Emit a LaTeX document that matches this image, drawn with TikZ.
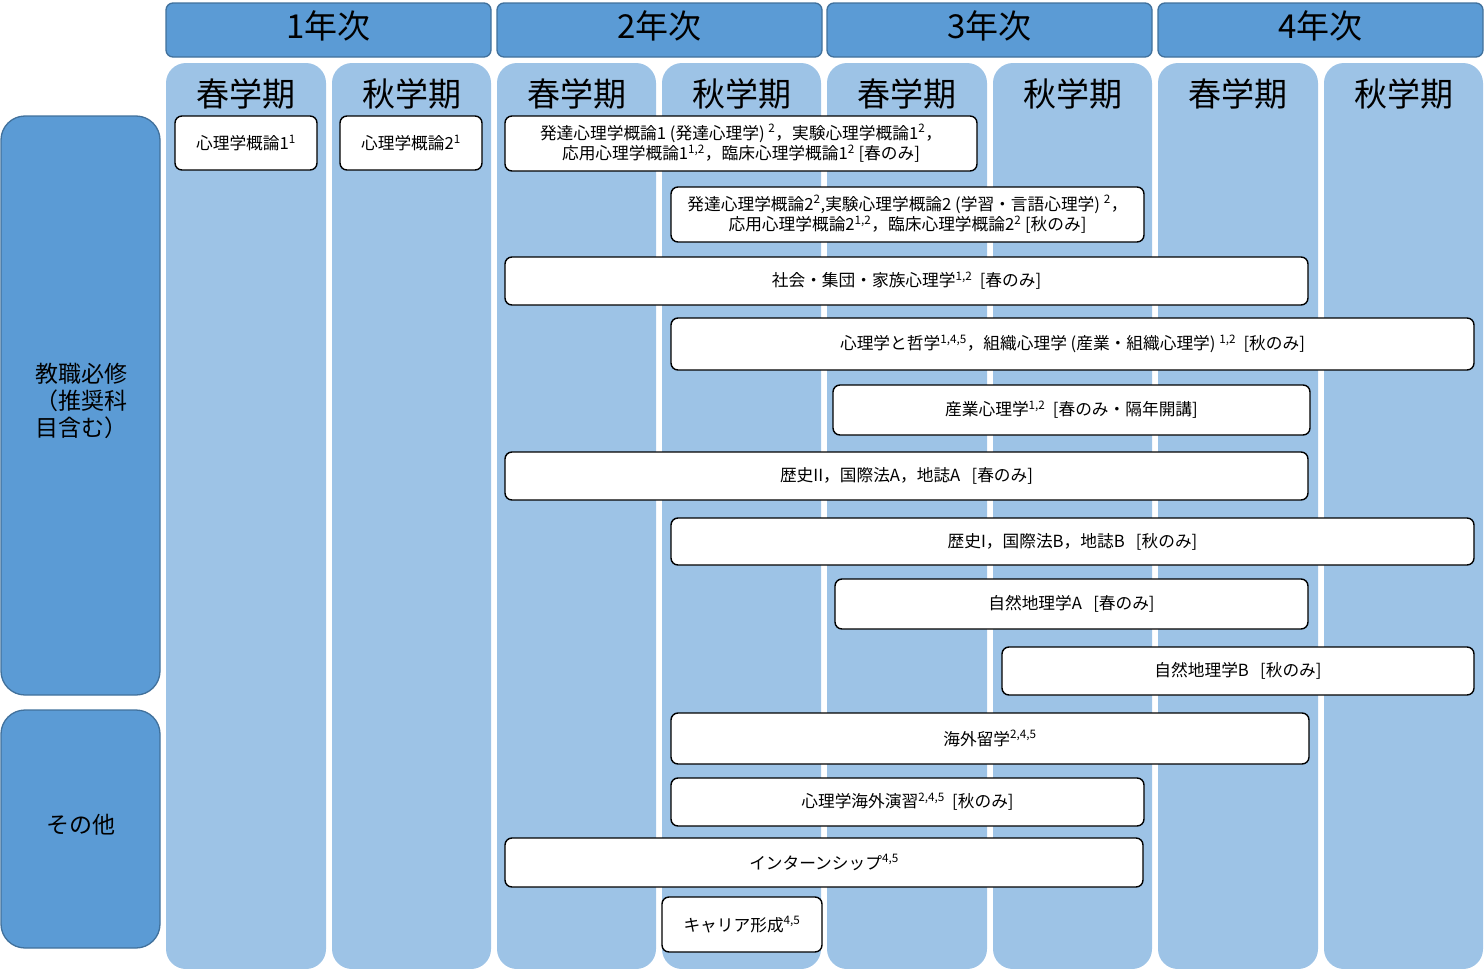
\documentclass[tikz,border=0pt]{standalone}
\usepackage{fontspec}
\setmainfont{Noto Sans CJK JP}
\definecolor{dblue}{HTML}{5B9BD5}
\definecolor{dborder}{HTML}{41719C}
\definecolor{lblue}{HTML}{9DC3E6}
\newcommand{\sups}[1]{\textsuperscript{#1}}
\tikzset{
  col/.style={fill=lblue, draw=none, rounded corners=20pt},
  yearbox/.style={fill=dblue, draw=dborder, line width=1.3pt, rounded corners=7pt, inner sep=0pt},
  yeartext/.style={inner sep=0pt, font=\fontsize{33}{36}\selectfont},
  sidebox/.style={fill=dblue, draw=dborder, line width=1.3pt, rounded corners=24pt, inner sep=0pt},
  semlabel/.style={inner sep=0pt, font=\fontsize{33}{36}\selectfont},
  cbox/.style={fill=white, draw=black, line width=1.4pt, rounded corners=7pt, inner sep=0pt, align=center, font=\fontsize{16.7}{20.5}\selectfont},
}
\newcommand{\boxat}[6][]{%
  \node[cbox,#1, minimum width={(#4)-(#2)}, minimum height={(#5)-(#3)}] (#6) at ({((#2)+(#4))/2},{((#3)+(#5))/2})}
\begin{document}
\begin{tikzpicture}[x=1pt,y=-1pt]
\useasboundingbox (0,0) rectangle (1484,969);
% columns
\foreach \a/\b/\n in {166/326/c1,332/491/c2,497/656/c3,662/821/c4,827/987/c5,993/1152/c6,1158/1318/c7,1324/1483/c8}{
  \path[col] (\a,63) rectangle (\b,969);
}
% semester labels
\foreach \cx/\t/\n in {246/春学期/s1,411.5/秋学期/s2,576.5/春学期/s3,741.5/秋学期/s4,907/春学期/s5,1072.5/秋学期/s6,1238/春学期/s7,1403.5/秋学期/s8}{
  \node[semlabel] (\n) at (\cx,94) {\t};
}
% year headers
\foreach \cx/\t/\n in {328.5/1年次/y1,659.5/2年次/y2,989.5/3年次/y3,1320.5/4年次/y4}{
  \node[yearbox, minimum width=325pt, minimum height=54pt] (\n) at (\cx,30) {};
  \node[yeartext] (\n t) at (\cx,26) {\t};
}
% side boxes
\node[sidebox, minimum width=159pt, minimum height=579pt] (side1) at (80.5,405.5) {};
\node[anchor=west, align=left, inner sep=0pt, font=\fontsize{23}{27}\selectfont] (side1t) at (35,401) {教職必修\\（推奨科\\目含む）};
\node[sidebox, minimum width=159pt, minimum height=238pt, font=\fontsize{23}{27}\selectfont] (side2) at (80.5,829) {};
\node[inner sep=0pt, font=\fontsize{23}{27}\selectfont] (side2t) at (81,825) {その他};
% course boxes
\boxat{175}{116}{317}{170}{k1}{心理学概論1\sups{1}};
\boxat{340}{116}{482}{170}{k2}{心理学概論2\sups{1}};
\boxat{505}{116}{977}{171}{h1}{発達心理学概論1 (発達心理学) \sups{2}，実験心理学概論1\sups{2}，\\応用心理学概論1\sups{1,2}，臨床心理学概論1\sups{2} [春のみ]};
\boxat{671}{187}{1144}{242}{h2}{発達心理学概論2\sups{2},実験心理学概論2 (学習・言語心理学) \sups{2}，\\応用心理学概論2\sups{1,2}，臨床心理学概論2\sups{2} [秋のみ]};
\boxat{505}{257}{1308}{305}{sh}{社会・集団・家族心理学\sups{1,2}\ \ [春のみ]};
\boxat{671}{318}{1474}{370}{tt}{心理学と哲学\sups{1,4,5}，組織心理学 (産業・組織心理学) \sups{1,2}\ \ [秋のみ]};
\boxat{833}{385}{1310}{435}{sg}{産業心理学\sups{1,2}\ \ [春のみ・隔年開講]};
\boxat{505}{452}{1308}{500}{r2}{歴史II，国際法A，地誌A\ \ \ [春のみ]};
\boxat{671}{518}{1474}{565}{r1}{歴史I，国際法B，地誌B\ \ \ [秋のみ]};
\boxat{835}{579}{1308}{629}{za}{自然地理学A\ \ \ [春のみ]};
\boxat{1002}{647}{1474}{695}{zb}{自然地理学B\ \ \ [秋のみ]};
\boxat{671}{713}{1309}{764}{kr}{海外留学\sups{2,4,5}};
\boxat{671}{778}{1144}{826}{ke}{心理学海外演習\sups{2,4,5}\ \ [秋のみ]};
\boxat{505}{838}{1143}{887}{is}{インターンシップ\sups{4,5}};
\boxat{662}{897}{822}{952}{cr}{キャリア形成\sups{4,5}};
\end{tikzpicture}
\end{document}
